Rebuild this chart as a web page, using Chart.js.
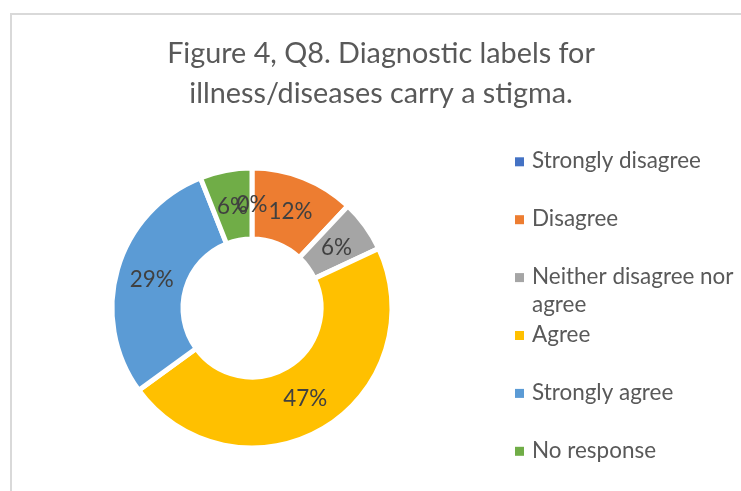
<!DOCTYPE html>
<html><head><meta charset="utf-8">
<script src="https://cdn.jsdelivr.net/npm/chart.js@4.4.1/dist/chart.umd.min.js"></script>
<style>html,body{margin:0;padding:0;background:#fff;}canvas{display:block}</style>
</head><body>
<canvas id="c" width="741" height="491"></canvas>
<script>
const titleLines = ['Figure 4, Q8. Diagnostic labels for', 'illness/diseases carry a stigma.'];
const categories = ['Strongly disagree', 'Disagree', 'Neither disagree nor agree', 'Agree', 'Strongly agree', 'No response'];
const percentValues = [0, 12, 6, 47, 29, 6];

const FONT = 'Lato, "Open Sans", "DejaVu Sans", sans-serif';

function fitSize(ctx, text, targetWidth) {
  ctx.save();
  ctx.font = '100px ' + FONT;
  const w = ctx.measureText(text).width;
  ctx.restore();
  return 100 * targetWidth / w;
}

function wrapText(ctx, text, maxWidth) {
  const words = text.split(' ');
  const lines = [];
  let cur = '';
  for (const w of words) {
    const t = cur ? cur + ' ' + w : w;
    if (ctx.measureText(t).width > maxWidth && cur) { lines.push(cur); cur = w; }
    else cur = t;
  }
  if (cur) lines.push(cur);
  return lines;
}

const decorPlugin = {
  id: 'decor',
  beforeDraw(chart) {
    const ctx = chart.ctx;
    ctx.save();
    ctx.fillStyle = '#ffffff';
    ctx.fillRect(0, 0, chart.width, chart.height);
    ctx.strokeStyle = '#d9d9d9';
    ctx.lineWidth = 2;
    ctx.beginPath();
    ctx.moveTo(11, chart.height);
    ctx.lineTo(11, 14);
    ctx.lineTo(chart.width, 14);
    ctx.stroke();
    ctx.restore();
  },
  afterDraw(chart) {
    const ctx = chart.ctx;
    ctx.save();
    // Title
    const ts = fitSize(ctx, titleLines[0], 428);
    ctx.font = ts + 'px ' + FONT;
    ctx.fillStyle = '#595959';
    ctx.textAlign = 'center';
    ctx.textBaseline = 'alphabetic';
    titleLines.forEach((l, i) => ctx.fillText(l, 381, 63 + i * 40));

    // Data labels
    const meta = chart.getDatasetMeta(0);
    const ls = fitSize(ctx, '12%', 44);
    ctx.font = ls + 'px ' + FONT;
    ctx.fillStyle = '#404040';
    ctx.textAlign = 'center';
    ctx.textBaseline = 'middle';
    const data = chart.data.datasets[0].data;
    const total = data.reduce((a, b) => a + b, 0);
    meta.data.forEach((arc, i) => {
      const p = arc.tooltipPosition();
      ctx.fillText(Math.round(data[i] / total * 100) + '%', p.x, p.y + 1);
    });

    // Legend
    const gs = fitSize(ctx, categories[0], 169);
    ctx.font = gs + 'px ' + FONT;
    ctx.textAlign = 'left';
    ctx.textBaseline = 'alphabetic';
    const colors = chart.data.datasets[0].backgroundColor;
    chart.data.labels.forEach((lab, i) => {
      const base = 168 + i * 57.9;
      ctx.fillStyle = colors[i];
      ctx.fillRect(515, base - 10.7, 9, 9);
      ctx.fillStyle = '#595959';
      const lines = wrapText(ctx, lab, 204);
      lines.forEach((ln, j) => ctx.fillText(ln, 532, base + j * 28));
    });
    ctx.restore();
  }
};

function build() {
  new Chart(document.getElementById('c'), {
    type: 'doughnut',
    data: {
      labels: categories,
      datasets: [{
        data: percentValues,
        backgroundColor: ['#4472C4', '#ED7D31', '#A5A5A5', '#FFC000', '#5B9BD5', '#70AD47'],
        borderColor: '#ffffff',
        borderWidth: 5,
        hoverOffset: 0
      }]
    },
    options: {
      responsive: false,
      animation: false,
      devicePixelRatio: 1,
      cutout: '49.3%',
      layout: { padding: { left: 109.5, right: 346.5, top: 165.5, bottom: 40.5 } },
      plugins: {
        legend: { display: false },
        title: { display: false },
        tooltip: { enabled: false }
      }
    },
    plugins: [decorPlugin]
  });
}
if (document.fonts && document.fonts.load) {
  document.fonts.load('20px Lato').then(build, build);
} else build();
</script>
</body></html>
